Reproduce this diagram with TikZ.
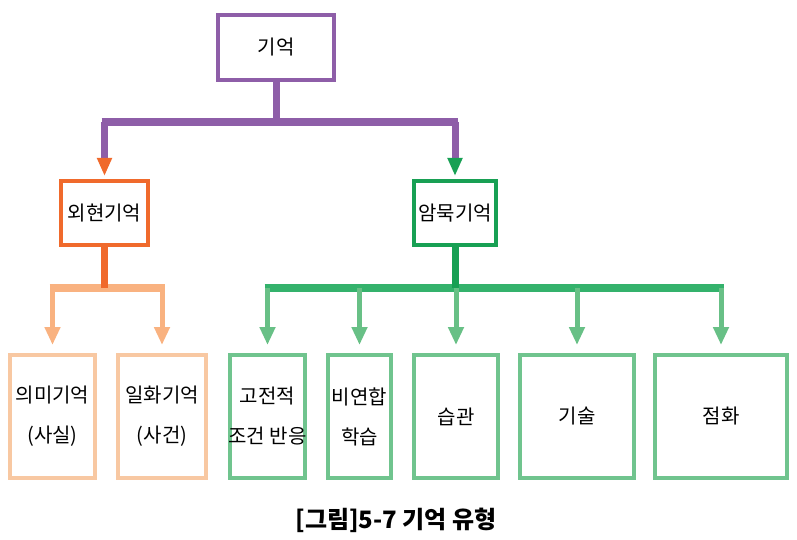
\documentclass[tikz,border=0pt]{standalone}
\usepackage{fontspec}
\setmainfont{Noto Sans CJK KR}
\usetikzlibrary{arrows.meta}

\definecolor{rootpurple}{RGB}{142,94,168}
\definecolor{explorange}{RGB}{240,106,44}
\definecolor{explbranch}{RGB}{249,178,128}
\definecolor{explleaf}{RGB}{248,200,162}
\definecolor{implgreen}{RGB}{24,160,84}
\definecolor{implbranch}{RGB}{52,178,108}
\definecolor{implarrow}{RGB}{104,192,134}
\definecolor{implleaf}{RGB}{112,196,142}

\begin{document}
\begin{tikzpicture}[
  x=1pt,
  y=1pt,
  box/.style={
    rectangle,
    line width=4pt,
    fill=white,
    align=center,
    inner sep=0pt,
    font=\fontsize{20}{40}\selectfont,
    minimum height=64pt
  },
  leaf/.style={
    box,
    minimum height=123pt
  },
  stem/.style={line width=7pt},
  bar/.style={line width=8pt, shorten <=-3pt, shorten >=-3pt},
  down/.style={line width=7pt, shorten >=3pt, -{Triangle[width=14pt,length=18pt,color=#1]}},
  branch/.style={line width=5pt, shorten >=8pt, -{Triangle[width=15pt,length=18pt,color=#1]}}
]
\useasboundingbox (0,0) rectangle (797,539);

\node[box, draw=rootpurple, minimum width=116pt, minimum height=65pt] (mem) at (276,491.5)
  {기억};

\node[box, draw=explorange, minimum width=87pt] (expl) at (104.5,326)
  {외현기억};
\node[box, draw=implgreen, minimum width=82pt] (impl) at (455,326)
  {암묵기억};

\node[leaf, draw=explleaf, minimum width=85pt] (sem) at (52.5,122.5)
  {의미기억\\(사실)};
\node[leaf, draw=explleaf, minimum width=88pt] (epi) at (162,122.5)
  {일화기억\\(사건)};

\node[leaf, draw=implleaf, minimum width=75pt] (cls) at (267.5,122.5)
  {고전적\\\makebox[0pt]{조건 반응}};
\node[leaf, draw=implleaf, minimum width=63pt] (nonas) at (359.5,122.5)
  {비연합\\학습};
\node[leaf, draw=implleaf, minimum width=84pt] (habit) at (456,122.5)
  {습관};
\node[leaf, draw=implleaf, minimum width=114pt] (skill) at (577,122.5)
  {기술};
\node[leaf, draw=implleaf, minimum width=132pt] (prime) at (721,122.5)
  {점화};

\node[font=\fontsize{24}{28}\selectfont\bfseries] (caption) at (396,19)
  {[그림]5-7 기억 유형};

% root to the two kinds
\draw[stem, rootpurple] (mem.south) -- ++(0,-40) coordinate (memfork);
\draw[bar, rootpurple] (expl.north |- memfork) -- (impl.north |- memfork);
\draw[down=explorange, rootpurple] (expl.north |- memfork) -- (expl.north);
\draw[down=implgreen, rootpurple] (impl.north |- memfork) -- (impl.north);

% explicit memory
\draw[bar, explbranch] (sem.north |- 0,251) coordinate (explfork) -- (epi.north |- explfork);
\draw[stem, explorange] (expl.south) -- (expl.south |- explfork);
\foreach \leaf in {sem,epi}
  \draw[branch=explbranch, explbranch] (\leaf.north |- explfork) -- (\leaf.north);

% implicit memory
\draw[bar, implbranch] (cls.north |- 0,251) coordinate (implfork) -- (prime.north |- implfork);
\draw[stem, implgreen] (impl.south) -- (impl.south |- implfork);
\foreach \leaf in {cls,nonas,habit,skill,prime}
  \draw[branch=implarrow, implarrow] (\leaf.north |- implfork) -- (\leaf.north);
\end{tikzpicture}
\end{document}
